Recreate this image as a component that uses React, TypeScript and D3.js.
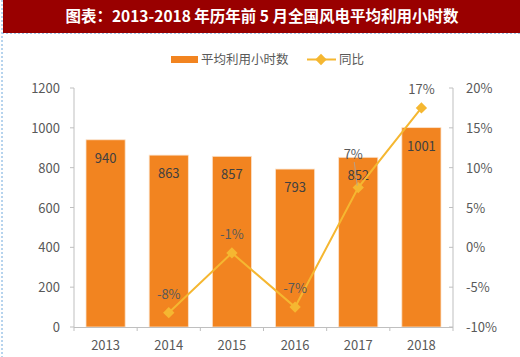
import React from "react";
import * as d3 from "d3";

const years = ["2013", "2014", "2015", "2016", "2017", "2018"];
const hours = [940, 863, 857, 793, 852, 1001];
const yoy = [null, -8.2, -0.7, -7.5, 7.5, 17.5];
const yoyLabels = ["", "-8%", "-1%", "-7%", "7%", "17%"];
const leftTicks = [0, 200, 400, 600, 800, 1000, 1200];
const rightTicks = [-10, -5, 0, 5, 10, 15, 20];

const W = 520, H = 357;
const x0 = 74, x1 = 453, yTop = 88, yBot = 327;
const FONT = "'Noto Sans CJK SC', 'Open Sans', sans-serif";

export default function App() {
  const x = d3.scaleBand().domain(years).range([x0, x1]).paddingInner(0.38).paddingOuter(0.19);
  const xb = d3.scaleBand().domain(years).range([x0, x1]);
  const yL = d3.scaleLinear().domain([0, 1200]).range([yBot, yTop]);
  const yR = d3.scaleLinear().domain([-10, 20]).range([yBot, yTop]);
  const pts = years.map((y, i) => ({ y, v: yoy[i] })).filter(d => d.v !== null) as { y: string; v: number }[];
  const line = d3.line<{ y: string; v: number }>()
    .x(d => (xb(d.y) as number) + xb.bandwidth() / 2)
    .y(d => yR(d.v));
  const lineColor = "#F5B731";
  const barColor = "#F28420";
  const axisColor = "#BFBFBF";
  const textColor = "#595959";
  return (
    <svg width={W} height={H} style={{ position: "absolute", left: 0, top: 0, fontFamily: FONT }}>
      <rect x={0} y={0} width={W} height={H} fill="#fff" />
      <rect x={3} y={0} width={W - 3} height={33} fill="#990000" />
      <line x1={2} y1={0} x2={2} y2={H} stroke="#6FA8DC" strokeDasharray="2,2" />
      <line x1={2} y1={33.5} x2={W} y2={33.5} stroke="#9FC5E8" strokeDasharray="2,2" />
      <text x={262} y={22} textAnchor="middle" fill="#fff" fontSize={15.5} fontWeight="bold">
        图表：2013-2018 年历年前 5 月全国风电平均利用小时数
      </text>
      {/* legend */}
      <rect x={171} y={56} width={27} height={7} fill={barColor} />
      <text x={201} y={64} fontSize={12.5} fill={textColor}>平均利用小时数</text>
      <line x1={307} y1={59.5} x2={336} y2={59.5} stroke={lineColor} strokeWidth={2} />
      <rect x={317} y={55.5} width={8} height={8} fill={lineColor} transform="rotate(45 321 59.5)" />
      <text x={339} y={64} fontSize={12.5} fill={textColor}>同比</text>
      {/* bars */}
      {years.map((yr, i) => (
        <g key={yr}>
          <rect x={x(yr)} y={yL(hours[i])} width={x.bandwidth()} height={yBot - yL(hours[i])}
            fill={barColor} stroke="#FBE3CC" strokeWidth={0.8} />
          <text x={(x(yr) as number) + x.bandwidth() / 2} y={yL(hours[i]) + 23} textAnchor="middle"
            fontSize={13} fill="#404040">{hours[i]}</text>
        </g>
      ))}
      {/* axes */}
      <line x1={x0} y1={yTop} x2={x0} y2={yBot} stroke={axisColor} />
      <line x1={x1} y1={yTop} x2={x1} y2={yBot} stroke={axisColor} />
      <line x1={x0} y1={yBot + 0.5} x2={x1} y2={yBot + 0.5} stroke={axisColor} />
      {leftTicks.map(t => (
        <g key={"l" + t}>
          <line x1={x0 - 4} x2={x0} y1={yL(t)} y2={yL(t)} stroke={axisColor} />
          <text x={60} y={yL(t) + 5} textAnchor="end" fontSize={13} fill={textColor}>{t}</text>
        </g>
      ))}
      {rightTicks.map(t => (
        <g key={"r" + t}>
          <line x1={x1 - 4} x2={x1} y1={yR(t)} y2={yR(t)} stroke={axisColor} />
          <text x={466} y={yR(t) + 5} textAnchor="start" fontSize={13} fill={textColor}>{t}%</text>
        </g>
      ))}
      {years.map((yr, i) => (
        <g key={"x" + yr}>
          <line x1={xb(yr)} x2={xb(yr)} y1={yBot} y2={yBot + 4} stroke={axisColor} />
          <text x={(xb(yr) as number) + xb.bandwidth() / 2} y={350} textAnchor="middle" fontSize={13} fill={textColor}>{yr}</text>
        </g>
      ))}
      <line x1={x1} x2={x1} y1={yBot} y2={yBot + 4} stroke={axisColor} />
      {/* line */}
      <path d={line(pts) as string} fill="none" stroke={lineColor} strokeWidth={2} />
      {pts.map(d => {
        const cx = (xb(d.y) as number) + xb.bandwidth() / 2;
        const cy = yR(d.v);
        return <rect key={"p" + d.y} x={cx - 4} y={cy - 4} width={8} height={8} fill={lineColor}
          transform={`rotate(45 ${cx} ${cy})`} />;
      })}
      {years.map((yr, i) => {
        if (yoy[i] === null) return null;
        const cx = (xb(yr) as number) + xb.bandwidth() / 2;
        const cy = yR(yoy[i] as number);
        const isLeader = i === 4;
        const lx = isLeader ? cx - 5 : cx;
        const ly = isLeader ? 159 : cy - 14;
        return (
          <g key={"lab" + yr}>
            {isLeader && <line x1={cx - 4} y1={162} x2={cx - 1} y2={cy - 2} stroke="#A6A6A6" strokeWidth={0.8} />}
            <text x={lx} y={ly} textAnchor="middle" fontSize={13} fill={textColor}>{yoyLabels[i]}</text>
          </g>
        );
      })}
    </svg>
  );
}
